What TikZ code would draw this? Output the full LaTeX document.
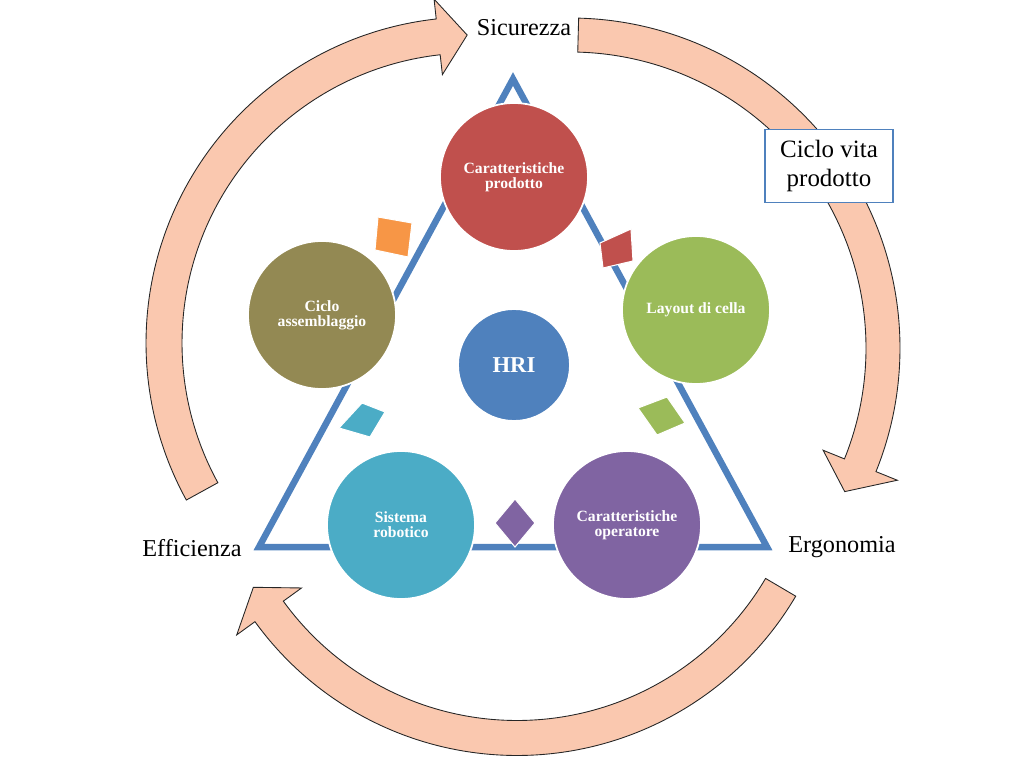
\documentclass[tikz,border=0pt]{standalone}
\usepackage{fontspec}
\setmainfont{Liberation Serif}
\usepackage{xcolor}
\usepackage{tikz}
\definecolor{hriblue}{HTML}{4F81BD}
\definecolor{prodred}{HTML}{C0504D}
\definecolor{cellgreen}{HTML}{9BBB59}
\definecolor{operpurple}{HTML}{8064A2}
\definecolor{robotteal}{HTML}{4BACC6}
\definecolor{cycleolive}{HTML}{938953}
\definecolor{markorange}{HTML}{F79646}
\definecolor{arrowpeach}{HTML}{FAC8AF}
\tikzset{
x=0.02cm, y=0.02cm, % one unit is one pixel of the sketch
bubble/.style={circle, draw=white, line width=1pt, minimum size=2.96cm, inner sep=0pt, align=center, text=white, font=\bfseries\fontsize{8.9}{8.7}\selectfont}, % the five outer circles
hubble/.style={bubble, minimum size=2.24cm, font=\bfseries\fontsize{12.9}{14}\selectfont}, % the HRI circle in the middle
triline/.style={draw=hriblue, line width=3.7pt}, % sides of the triangle
cyclearrow/.style={fill=arrowpeach, draw=black!85, line width=0.5pt}, % the big curved arrows
marker/.style={draw=white, line width=0.6pt}, % small squares between the circles
corner/.style={font=\fontsize{13.8}{16}\selectfont}, % labels at the corners
}

\begin{document}
\begin{tikzpicture}
    \useasboundingbox (0,0) rectangle (1024,768);

    % cycle of arrows
    \draw[cyclearrow, shift={(472,425)}] (208.8:326) arc[start angle=208.8, end angle=96.3, radius=326] -- (96.3:346) -- (90.9:308) -- (96.3:270) -- (96.3:290) arc[start angle=96.3, end angle=208.8, radius=290] -- cycle;
    \draw[cyclearrow, shift={(570,420)}] (88.5:330) arc[start angle=88.5, end angle=-22, radius=330] -- (-22:353) -- (-27.6:310) -- (-22:273) -- (-22:296) arc[start angle=-22, end angle=88.5, radius=296] -- cycle;
    \draw[cyclearrow, shift={(517,336)}] (-30.5:323.5) arc[start angle=-30.5, end angle=-144.1, radius=323.5] -- (-144.1:346) -- (-149.5:306) -- (-144.1:266) -- (-144.1:288.5) arc[start angle=-144.1, end angle=-30.5, radius=288.5] -- cycle;

    % triangle
    \coordinate (apex) at (513,689);
    \coordinate (left) at (259,221);
    \coordinate (right) at (767,221);
    \draw[triline] (apex) -- (left) -- (right) -- cycle;

    \node[bubble, fill=prodred] (prodotto) at (514,591) {Caratteristiche\\prodotto};
    \node[bubble, fill=cellgreen] (layout) at (696,458) {Layout di cella};
    \node[bubble, fill=operpurple] (operatore) at (627,243) {Caratteristiche\\operatore};
    \node[bubble, fill=robotteal] (robotico) at (401,243) {Sistema\\robotico};
    \node[bubble, fill=cycleolive] (assemblaggio) at (322,453) {Ciclo\\assemblaggio};
    \node[hubble, fill=hriblue] (hri) at (514,403) {HRI};

    \fill[marker, fill=markorange] (378,551) -- (412,545) -- (408,511) -- (375,518) -- cycle;
    \fill[marker, fill=prodred] (600,525) -- (631,539) -- (633,507) -- (603,500) -- cycle;
    \fill[marker, fill=cellgreen] (638,360) -- (667,371) -- (685,345) -- (657,333) -- cycle;
    \fill[marker, fill=operpurple] (515,269) -- (535,245) -- (515,221) -- (495,245) -- cycle;
    \fill[marker, fill=robotteal] (362,365) -- (385,356) -- (370,331) -- (339,340) -- cycle;

    \node[corner] (sicurezza) at (524,740) {Sicurezza};
    \node[corner] (ergonomia) at (842,221) {Ergonomia};
    \node[corner] (efficienza) at (192,220) {Efficienza};
    \node[draw=hriblue, fill=white, line width=0.8pt, minimum width=2.56cm, minimum height=1.46cm, align=center, font=\fontsize{14.2}{17}\selectfont] (ciclovita) at (829,602) {Ciclo vita\\prodotto};
\end{tikzpicture}
\end{document}
